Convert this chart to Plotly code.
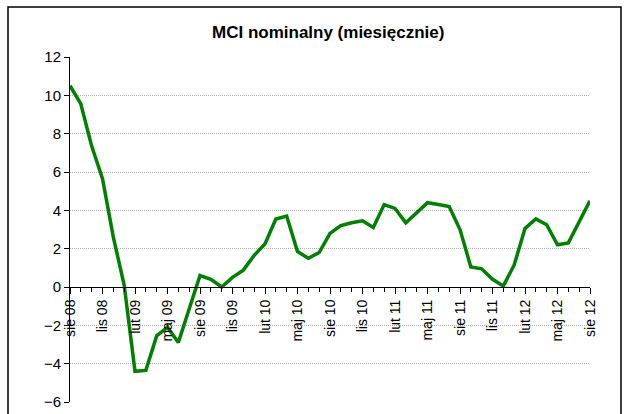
import plotly.graph_objects as go

# monthly MCI values, sie 08 .. sie 12
months = list(range(49))
mci = [10.5, 9.55, 7.35, 5.65, 2.6, 0.1, -4.4, -4.35, -2.55, -2.1, -2.9, -1.15,
       0.6, 0.4, 0.0, 0.5, 0.88, 1.65, 2.25, 3.55, 3.7, 1.85, 1.5, 1.8,
       2.8, 3.2, 3.35, 3.45, 3.1, 4.3, 4.1, 3.35, 3.9, 4.4, 4.3, 4.2,
       3.0, 1.05, 0.95, 0.4, 0.05, 1.15, 3.05, 3.55, 3.25, 2.2, 2.3, 3.45, 4.5]

tick_pos = list(range(0, 49, 3))
tick_text = ["sie 08", "lis 08", "lut 09", "maj 09", "sie 09", "lis 09", "lut 10",
             "maj 10", "sie 10", "lis 10", "lut 11", "maj 11", "sie 11", "lis 11",
             "lut 12", "maj 12", "sie 12"]

W, H = 630, 414
L, R, T, B = 70, 40, 57, 12
pw, ph = W - L - R, H - T - B

fig = go.Figure()
fig.add_trace(go.Scatter(
    x=months, y=mci, mode='lines',
    line=dict(color='#008000', width=3.5),
    hoverinfo='skip', showlegend=False
))

tick_font = dict(family="Liberation Sans Narrow, Arial Narrow, Liberation Sans, Arial", size=15, color='black')

fig.update_layout(
    template='none',
    width=W, height=H,
    margin=dict(l=L, r=R, t=T, b=B, pad=0),
    plot_bgcolor='white', paper_bgcolor='white',
    showlegend=False,
    xaxis=dict(
        range=[0, 48], anchor='free', position=6 / 18, automargin=False,
        showgrid=False, zeroline=False,
        showline=True, linecolor='black', linewidth=1,
        tickmode='array', tickvals=tick_pos, ticktext=tick_text,
        ticks='outside', ticklen=6, tickcolor='black',
        tickangle=-90, tickfont=dict(tick_font, size=14),
        minor=dict(tickmode='linear', tick0=0, dtick=1, ticks='outside',
                   ticklen=4, tickcolor='black', showgrid=False),
    ),
    yaxis=dict(
        range=[-6, 12], dtick=2, tick0=0, automargin=False,
        showgrid=True, gridcolor='#b0b0b0', griddash='1px,1px', gridwidth=1,
        zeroline=False,
        showline=True, linecolor='black', linewidth=1,
        ticks='outside', ticklen=5, tickcolor='black',
        tickfont=tick_font,
    ),
)

# title
fig.add_annotation(
    x=(328 - L) / pw, y=(H - B - 33) / ph, xref='paper', yref='paper',
    text="<b>MCI nominalny (miesięcznie)</b>", showarrow=False,
    xanchor='center', yanchor='middle',
    font=dict(family="Liberation Sans, Arial", size=17, color='black')
)

# outer chart frame
fig.add_shape(
    type='rect', xref='paper', yref='paper',
    x0=(8 - L) / pw, x1=(621 - L) / pw,
    y0=(H - B - 430) / ph, y1=(H - B - 7) / ph,
    line=dict(color='black', width=1.5), fillcolor='rgba(0,0,0,0)'
)

fig.write_html("out.html", config={'displayModeBar': False},
               post_script="document.body.style.margin='0';")
